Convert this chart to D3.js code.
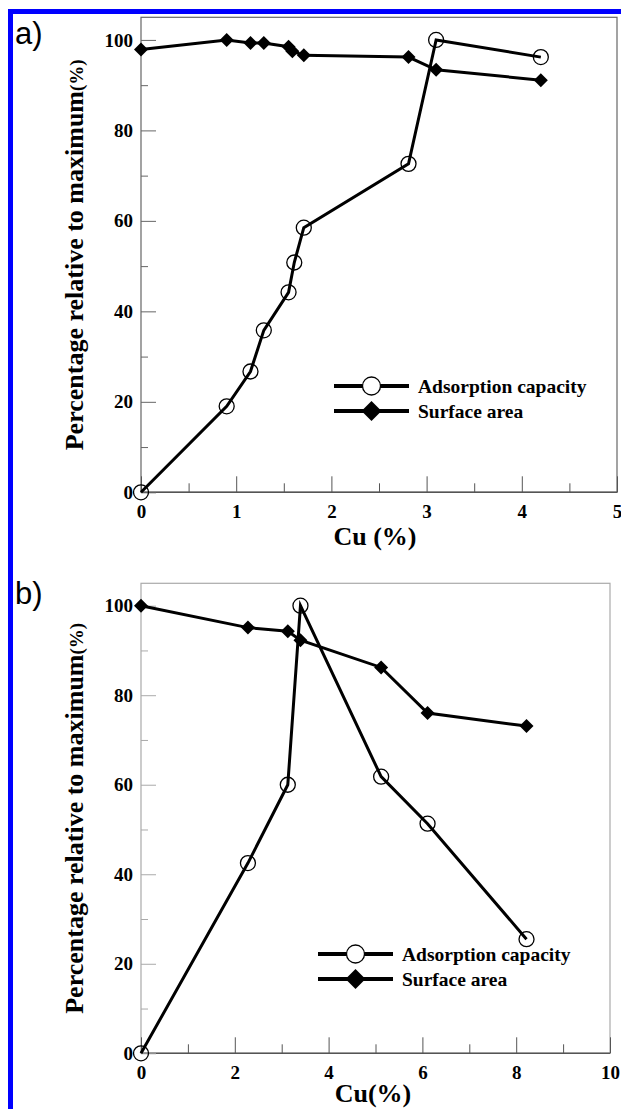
<!DOCTYPE html>
<html>
<head>
<meta charset="utf-8">
<script src="https://cdn.jsdelivr.net/npm/d3@7"></script>
<style>
  body { margin: 0; background: #fff; }
</style>
</head>
<body>
<script>
// Panel a) data
const cuA_capacity = [0, 0.9, 1.15, 1.29, 1.55, 1.61, 1.71, 2.81, 3.10, 4.20];
const capacityA    = [0, 19, 26.7, 35.8, 44.2, 50.8, 58.5, 72.6, 100, 96.2];
const cuA_surface  = [0, 0.9, 1.15, 1.29, 1.55, 1.59, 1.71, 2.81, 3.10, 4.20];
const surfaceA     = [97.9, 100, 99.3, 99.3, 98.5, 97.5, 96.6, 96.2, 93.4, 91.1];

// Panel b) data
const cuB_capacity = [0, 2.28, 3.13, 3.40, 5.12, 6.11, 8.22];
const capacityB    = [0, 42.5, 60, 100, 61.8, 51.3, 25.5];
const cuB_surface  = [0, 2.28, 3.13, 3.40, 5.12, 6.11, 8.22];
const surfaceB     = [100, 95.1, 94.3, 92.3, 86.2, 76, 73.1];

// Ticks
const yMajor = [0, 20, 40, 60, 80, 100];
const yMinor = [10, 30, 50, 70, 90];
const xMajorA = [0, 1, 2, 3, 4, 5];
const xMinorA = [0.5, 1.5, 2.5, 3.5, 4.5];
const xMajorB = [0, 2, 4, 6, 8, 10];
const xMinorB = [1, 3, 5, 7, 9];

const legendNames = ["Adsorption capacity", "Surface area"];
const yTitle = "Percentage relative to maximum";

const serif = '"Liberation Serif", "Times New Roman", serif';
const width = 621, height = 1109;

const svg = d3.select("body").append("svg")
  .attr("width", width)
  .attr("height", height);

// Blue frame on top and left
svg.append("rect").attr("x", 8).attr("y", 9).attr("width", width - 8).attr("height", 5).attr("fill", "#0000ff");
svg.append("rect").attr("x", 8).attr("y", 9).attr("width", 5).attr("height", height - 9).attr("fill", "#0000ff");

// Diamond symbol
const diamond = {
  draw(ctx, size) {
    const r = Math.sqrt(size / 2);
    ctx.moveTo(0, -r);
    ctx.lineTo(r, 0);
    ctx.lineTo(0, r);
    ctx.lineTo(-r, 0);
    ctx.closePath();
  }
};

function drawPanel(p) {
  const x = d3.scaleLinear().domain(p.xDomain).range([p.left, p.right]);
  const y = d3.scaleLinear().domain([0, 105]).range([p.bottom, p.top]);
  const g = svg.append("g");

  // frame
  g.append("rect")
    .attr("x", p.left).attr("y", p.top)
    .attr("width", p.right - p.left).attr("height", p.bottom - p.top)
    .attr("fill", "none")
    .attr("stroke", p.frameColor)
    .attr("stroke-width", 1.2);
  g.append("line")
    .attr("x1", p.left).attr("x2", p.right)
    .attr("y1", p.bottom).attr("y2", p.bottom)
    .attr("stroke", p.bottomColor)
    .attr("stroke-width", 1.4);

  // x axis, major + minor ticks pointing inward
  const xAx = g.append("g").attr("transform", `translate(0,${p.bottom})`)
    .call(d3.axisBottom(x).tickValues(p.xMajor).tickSize(-16).tickPadding(12).tickFormat(d3.format("d")));
  g.append("g").attr("transform", `translate(0,${p.bottom})`)
    .call(d3.axisBottom(x).tickValues(p.xMinor).tickSize(-9).tickFormat(""))
    .call(a => a.select(".domain").remove())
    .selectAll("line").attr("stroke", p.bottomColor);
  xAx.select(".domain").remove();
  xAx.selectAll("line").attr("stroke", p.bottomColor);

  // y axis
  const yAx = g.append("g").attr("transform", `translate(${p.left},0)`)
    .call(d3.axisLeft(y).tickValues(yMajor).tickSize(-15).tickPadding(8));
  g.append("g").attr("transform", `translate(${p.left},0)`)
    .call(d3.axisLeft(y).tickValues(yMinor).tickSize(-7).tickFormat(""))
    .call(a => a.select(".domain").remove())
    .selectAll("line").attr("stroke", p.frameColor);
  yAx.select(".domain").remove();
  yAx.selectAll("line").attr("stroke", p.frameColor);

  g.selectAll(".tick text")
    .attr("font-family", serif)
    .attr("font-size", 19)
    .attr("font-weight", "bold")
    .attr("fill", "#000");

  // titles
  g.append("text")
    .attr("x", p.xTitleX).attr("y", p.xTitleY)
    .attr("text-anchor", "middle")
    .attr("font-family", serif).attr("font-size", 26).attr("font-weight", "bold")
    .text(p.xTitle);

  const yt = g.append("text")
    .attr("transform", `translate(83,${(p.top + p.bottom) / 2}) rotate(-90)`)
    .attr("text-anchor", "middle")
    .attr("font-family", serif).attr("font-size", 26).attr("font-weight", "bold");
  yt.append("tspan").text(yTitle);
  yt.append("tspan").attr("font-size", 19).text("(%)");

  // panel letter
  g.append("text")
    .attr("x", 15).attr("y", p.letterY)
    .attr("font-family", '"Liberation Sans", Arial, sans-serif')
    .attr("font-size", 31)
    .text(p.letter);

  // series
  const line = d3.line().x(d => x(d[0])).y(d => y(d[1]));
  const cap = p.capX.map((v, i) => [v, p.capY[i]]);
  const sur = p.surX.map((v, i) => [v, p.surY[i]]);

  g.append("path").datum(sur).attr("d", line)
    .attr("fill", "none").attr("stroke", "#000").attr("stroke-width", 3);
  g.append("path").datum(cap).attr("d", line)
    .attr("fill", "none").attr("stroke", "#000").attr("stroke-width", 3);

  g.selectAll(".dia").data(sur).enter().append("path")
    .attr("transform", d => `translate(${x(d[0])},${y(d[1])})`)
    .attr("d", d3.symbol(diamond, 98))
    .attr("fill", "#000");
  g.selectAll(".circ").data(cap).enter().append("circle")
    .attr("cx", d => x(d[0])).attr("cy", d => y(d[1]))
    .attr("r", 7.5)
    .attr("fill", "none")
    .attr("stroke", "#000")
    .attr("stroke-width", 1.3);

  // legend
  const lg = g.append("g").attr("transform", `translate(${p.legX},${p.legY})`);
  legendNames.forEach((name, i) => {
    const row = lg.append("g").attr("transform", `translate(0,${i * 25})`);
    row.append("line").attr("x1", 0).attr("x2", 75).attr("y1", 0).attr("y2", 0)
      .attr("stroke", "#000").attr("stroke-width", 4);
    if (i === 0) {
      row.append("circle").attr("cx", 37.5).attr("cy", 0).attr("r", 9)
        .attr("fill", "#fff").attr("stroke", "#000").attr("stroke-width", 1.3);
    } else {
      row.append("path").attr("transform", "translate(37.5,0)")
        .attr("d", d3.symbol(diamond, 200)).attr("fill", "#000");
    }
    row.append("text").attr("x", 84).attr("y", 6.5)
      .attr("font-family", serif).attr("font-size", 19.5).attr("font-weight", "bold")
      .text(name);
  });
}

drawPanel({
  letter: "a)", letterY: 43.5,
  xDomain: [0, 5], left: 141, right: 617, top: 17.3, bottom: 492.3,
  xMajor: xMajorA, xMinor: xMinorA,
  frameColor: "#666", bottomColor: "#555",
  capX: cuA_capacity, capY: capacityA, surX: cuA_surface, surY: surfaceA,
  xTitle: "Cu (%)", xTitleX: 375, xTitleY: 545,
  legX: 334, legY: 386
});

drawPanel({
  letter: "b)", letterY: 603.5,
  xDomain: [0, 10], left: 141, right: 610, top: 583.3, bottom: 1053.3,
  xMajor: xMajorB, xMinor: xMinorB,
  frameColor: "#aaa", bottomColor: "#555",
  capX: cuB_capacity, capY: capacityB, surX: cuB_surface, surY: surfaceB,
  xTitle: "Cu(%)", xTitleX: 373, xTitleY: 1102,
  legX: 318, legY: 954
});
</script>
</body>
</html>
